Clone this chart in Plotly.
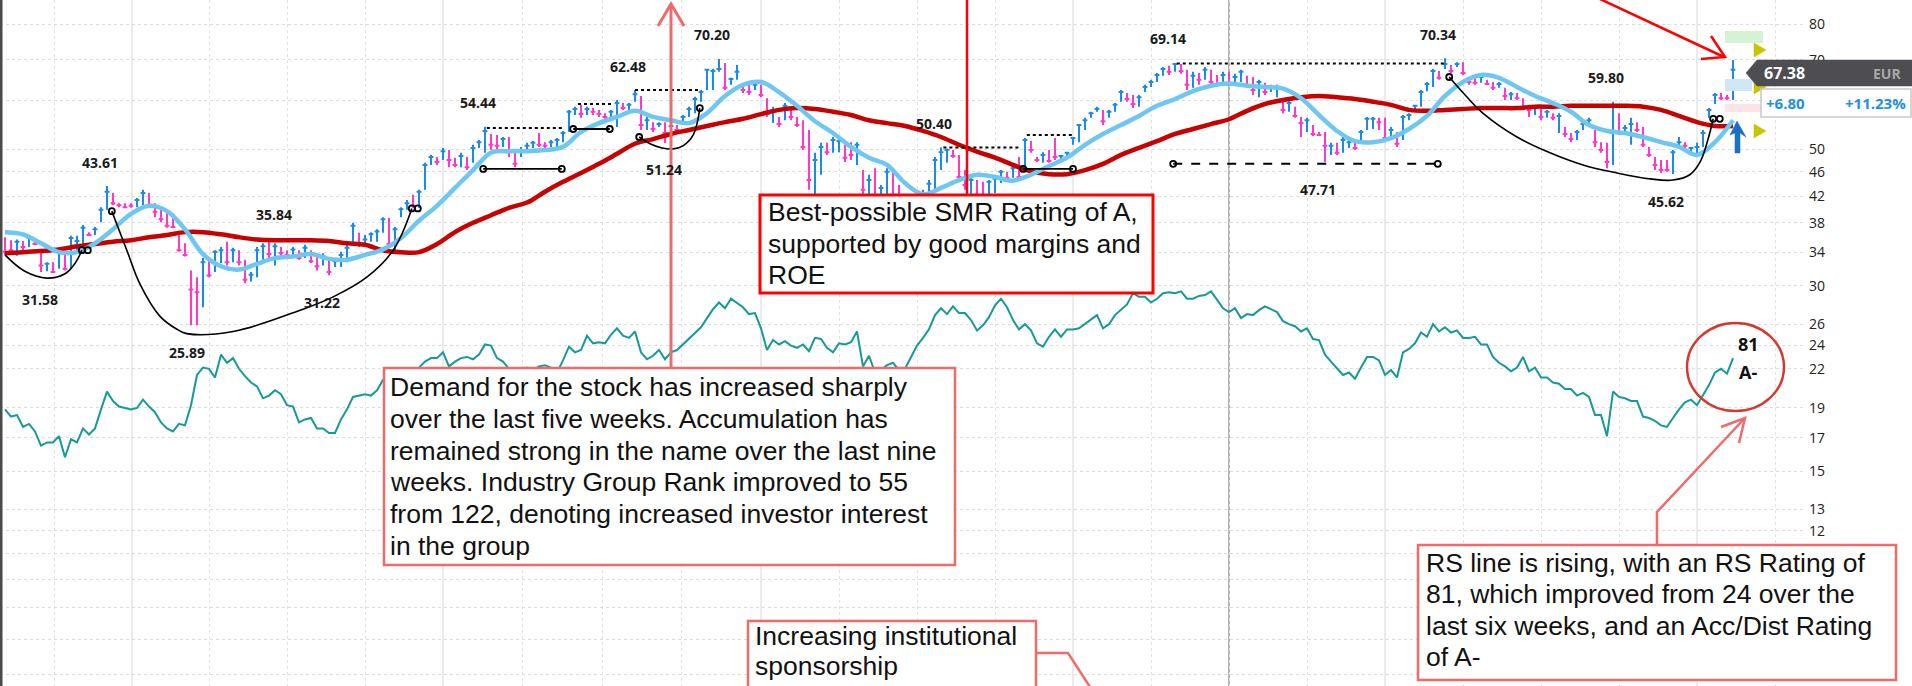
import math
import plotly.graph_objects as go

# ---------------- data (daily bars, EUR) ----------------
high = [
 36.0, 35.6, 35.7, 35.5, 36.3, 35.6, 34.3, 32.8, 32.8, 34.6,
 33.7, 36.2, 36.2, 37.7, 36.7, 37.4, 40.3, 43.61, 42.5, 40.9,
 40.9, 40.9, 41.7, 43.0, 42.5, 40.9, 40.2, 39.4, 39.4, 36.7,
 35.2, 31.8, 31.0, 33.3, 33.3, 34.3, 34.7, 35.4, 34.6, 34.3,
 33.1, 31.6, 34.7, 35.2, 35.84, 35.2, 34.7, 34.3, 34.7, 34.3,
 35.0, 34.3, 33.7, 33.9, 33.1, 33.3, 34.1, 35.0, 38.0, 36.6,
 36.3, 36.7, 37.1, 38.8, 38.7, 37.4, 40.3, 41.4, 42.2, 43.0,
 47.6, 49.0, 48.6, 50.3, 49.9, 48.5, 49.4, 48.6, 50.9, 51.8,
 54.44, 53.0, 52.8, 52.4, 52.4, 49.9, 50.5, 51.3, 51.6, 53.2,
 51.4, 51.8, 52.2, 53.6, 58.0, 58.7, 59.1, 58.7, 58.4, 58.0,
 57.3, 58.0, 60.2, 59.5, 59.5, 62.48, 61.1, 56.5, 55.4, 55.4,
 55.4, 55.2, 54.8, 56.9, 58.7, 60.9, 62.5, 67.6, 67.6, 70.2,
 69.1, 65.4, 68.6, 63.7, 63.7, 64.2, 63.7, 60.6, 58.7, 56.5,
 59.5, 58.0, 56.5, 55.8, 53.8, 49.4, 51.3, 51.3, 52.4, 52.4,
 50.9, 51.4, 51.4, 46.3, 45.5, 46.6, 43.8, 46.6, 46.6, 43.8,
 42.2, 42.2, 41.4, 43.0, 44.6, 48.6, 50.4, 50.2, 49.9, 49.0,
 46.3, 45.1, 44.6, 44.3, 44.6, 45.1, 46.3, 46.0, 47.2, 48.6,
 52.2, 51.6, 48.6, 49.5, 49.9, 52.2, 49.0, 49.5, 52.4, 55.0,
 56.3, 57.6, 58.7, 58.0, 58.0, 59.5, 62.5, 61.8, 61.3, 61.3,
 63.7, 64.9, 66.6, 68.1, 68.4, 69.14, 68.9, 67.4, 66.9, 66.6,
 68.1, 67.4, 66.1, 66.9, 66.9, 66.4, 67.4, 65.9, 65.6, 64.9,
 64.2, 63.7, 63.7, 60.2, 60.2, 58.7, 56.5, 56.3, 54.8, 53.4,
 53.4, 51.3, 51.3, 52.4, 52.2, 51.3, 53.8, 56.5, 56.5, 56.3,
 56.3, 54.4, 53.4, 56.9, 57.3, 59.1, 62.5, 64.4, 67.6, 67.1,
 70.34, 68.6, 69.3, 69.3, 65.6, 65.4, 66.1, 64.9, 64.4, 64.4,
 63.0, 62.0, 61.8, 60.6, 59.1, 58.7, 58.4, 58.0, 57.3, 57.3,
 54.4, 53.2, 53.8, 55.4, 56.3, 53.8, 51.4, 51.3, 59.8, 57.3,
 54.8, 56.3, 55.4, 54.4, 50.5, 48.6, 48.1, 48.1, 49.9, 52.4,
 51.4, 50.5, 51.3, 53.8, 58.4, 61.8, 61.8, 61.3, 69.9,
]
low = [
 33.7, 33.9, 33.6, 34.3, 34.7, 35.0, 31.6, 31.7, 31.58, 32.0,
 31.8, 32.0, 34.3, 34.3, 36.2, 36.3, 38.1, 39.9, 40.6, 40.3,
 40.2, 40.2, 40.3, 40.6, 40.3, 38.8, 38.1, 37.3, 37.3, 34.1,
 33.5, 25.89, 25.9, 27.7, 31.0, 31.6, 32.7, 32.4, 32.8, 32.4,
 30.3, 30.5, 31.0, 33.1, 33.3, 32.4, 33.5, 33.5, 33.7, 33.1,
 33.3, 32.7, 31.8, 32.4, 31.22, 32.2, 32.2, 32.8, 35.4, 34.7,
 35.2, 35.4, 35.4, 36.6, 34.6, 34.3, 38.8, 39.9, 40.2, 40.2,
 43.0, 47.2, 47.2, 48.1, 46.8, 46.8, 46.8, 46.3, 47.6, 50.3,
 49.4, 49.9, 49.5, 50.5, 48.6, 46.8, 48.6, 49.4, 50.3, 50.5,
 50.3, 50.5, 50.5, 51.4, 53.4, 56.9, 56.3, 56.9, 56.9, 56.5,
 55.8, 56.3, 54.4, 58.0, 58.0, 59.8, 53.8, 53.8, 53.4, 54.4,
 51.24, 53.2, 53.4, 55.2, 56.5, 57.3, 59.8, 62.5, 62.5, 66.9,
 62.5, 63.7, 64.9, 61.8, 61.3, 62.5, 60.8, 56.5, 55.2, 54.4,
 55.8, 55.8, 54.4, 49.9, 43.0, 42.2, 45.5, 49.0, 49.4, 49.5,
 47.7, 48.1, 47.2, 42.2, 41.4, 41.4, 41.7, 41.7, 41.4, 39.1,
 39.1, 38.4, 38.1, 39.9, 41.4, 43.0, 46.3, 47.6, 48.5, 44.6,
 43.0, 42.2, 41.7, 41.4, 41.7, 42.5, 44.1, 44.6, 45.0, 44.6,
 46.6, 49.4, 47.7, 47.6, 47.6, 48.1, 47.7, 48.5, 50.9, 51.4,
 53.8, 56.3, 57.6, 54.8, 56.3, 57.6, 59.8, 59.8, 58.4, 58.7,
 62.0, 63.2, 64.4, 65.9, 66.1, 66.9, 66.4, 62.5, 63.0, 63.7,
 64.9, 63.7, 63.5, 63.7, 63.5, 63.7, 64.4, 63.0, 61.3, 60.8,
 61.3, 62.0, 60.8, 57.3, 57.6, 56.3, 52.4, 53.4, 52.6, 52.6,
 47.71, 49.0, 49.0, 49.4, 50.3, 49.9, 51.4, 53.8, 54.0, 53.8,
 51.4, 52.4, 50.5, 51.8, 55.8, 58.0, 58.7, 62.2, 63.2, 64.9,
 67.6, 66.6, 68.1, 66.1, 63.7, 63.7, 64.2, 63.7, 62.5, 63.0,
 60.2, 60.2, 60.2, 58.0, 56.5, 56.9, 55.8, 56.3, 55.8, 53.2,
 52.4, 51.4, 51.8, 53.8, 54.4, 50.5, 49.4, 46.6, 47.2, 52.8,
 53.4, 50.9, 53.4, 50.5, 48.6, 46.3, 45.8, 46.0, 45.62, 50.3,
 50.3, 49.5, 49.0, 50.5, 56.3, 59.3, 60.2, 60.2, 60.2,
]
close = [
 34.1, 34.3, 35.4, 34.7, 35.9, 35.1, 32.4, 32.6, 31.6, 34.1,
 32.0, 35.9, 35.5, 37.3, 36.3, 37.1, 39.9, 42.7, 40.9, 40.6,
 40.3, 40.5, 41.4, 42.5, 40.5, 39.6, 38.5, 37.6, 37.4, 34.3,
 33.7, 29.6, 29.3, 32.8, 31.2, 34.1, 34.3, 32.8, 34.3, 32.8,
 30.7, 31.3, 34.3, 34.8, 33.8, 34.8, 33.9, 33.7, 34.4, 33.3,
 34.6, 32.9, 32.3, 33.5, 31.6, 32.9, 33.7, 34.6, 37.6, 35.1,
 35.7, 36.4, 36.8, 38.5, 35.1, 37.1, 40.0, 40.9, 40.5, 42.7,
 47.2, 48.6, 47.7, 49.7, 48.1, 47.2, 48.8, 46.8, 50.3, 51.4,
 53.6, 50.9, 50.7, 52.0, 49.9, 47.4, 49.9, 50.7, 51.3, 50.9,
 50.7, 51.4, 51.8, 53.2, 57.6, 58.2, 57.1, 58.2, 57.6, 57.1,
 56.5, 57.6, 59.5, 58.4, 59.1, 61.5, 54.8, 55.8, 54.0, 55.0,
 53.2, 54.6, 53.8, 56.5, 58.2, 60.4, 62.0, 67.4, 67.1, 67.6,
 63.0, 65.1, 66.9, 62.5, 62.0, 63.7, 61.3, 57.1, 58.0, 55.0,
 58.9, 56.5, 54.8, 50.5, 44.6, 48.1, 50.5, 49.5, 51.8, 51.6,
 48.5, 49.0, 50.9, 43.0, 44.6, 42.2, 43.3, 46.0, 42.2, 39.9,
 41.7, 39.1, 40.6, 42.2, 44.0, 48.1, 49.5, 49.9, 48.8, 45.1,
 43.8, 44.6, 42.2, 41.9, 44.3, 44.8, 46.0, 45.0, 46.6, 45.1,
 51.8, 49.9, 48.1, 49.0, 47.9, 48.6, 48.8, 49.4, 52.2, 54.8,
 55.8, 57.3, 58.2, 55.6, 57.6, 59.1, 62.0, 60.4, 59.3, 60.8,
 63.2, 64.4, 66.1, 67.6, 66.9, 68.9, 67.1, 63.7, 65.9, 64.9,
 67.4, 64.4, 63.9, 66.1, 63.7, 65.6, 66.9, 63.5, 62.5, 64.4,
 62.0, 63.2, 63.0, 58.0, 59.5, 56.7, 55.2, 55.8, 53.0, 52.8,
 50.7, 50.7, 49.4, 51.8, 51.4, 50.3, 53.4, 56.1, 56.1, 55.4,
 52.2, 53.8, 51.1, 56.5, 56.9, 58.9, 62.0, 63.9, 67.1, 65.4,
 68.9, 67.1, 68.9, 66.6, 64.4, 64.2, 65.6, 63.9, 63.0, 63.9,
 61.1, 61.5, 60.6, 58.7, 58.0, 58.4, 56.5, 57.6, 56.3, 56.7,
 53.0, 52.0, 53.4, 55.0, 55.8, 51.4, 49.9, 47.7, 53.4, 53.2,
 54.2, 55.0, 53.8, 50.9, 49.0, 47.2, 46.3, 46.3, 49.5, 51.4,
 50.7, 50.3, 50.5, 53.2, 58.0, 61.3, 60.6, 60.58, 67.38,
]
# u = up day (blue), d = down day (magenta)
direction = (
 "ddududdudu" "duuuduuudd" "dduudddddd" "ddduduudud" "duuududdud"
 "udduduuuud" "uuuuduuudu" "uududduduu" "uddudduuud" "duuuuududd"
 "duuduududu" "duduuuuuuu" "duudduddud" "udddduuduu" "ddududuudd"
 "uduuuuuudd" "dudduuudud" "uddudduuuu" "uuuduuuddu" "uuuududdud"
 "udduduuddu" "duududdudd" "duduuduuud" "duduuuuuud" "ududdduddu"
 "dudddududu" "dduuudddud" "uudddddduu" "duuuuuddu"
)
rs_line = [
 18.9, 18.4, 18.5, 17.7, 17.9, 17.4, 16.5, 16.7, 16.7, 17.1,
 15.8, 16.9, 16.7, 17.6, 17.2, 17.6, 18.9, 20.2, 19.5, 19.1,
 19.0, 18.9, 19.0, 19.6, 19.1, 18.7, 18.0, 17.6, 17.4, 17.9,
 17.8, 19.2, 21.5, 22.1, 22.0, 21.3, 23.2, 22.5, 22.9, 22.0,
 21.4, 20.9, 20.6, 19.7, 19.9, 20.3, 20.0, 19.2, 19.1, 18.0,
 18.2, 18.3, 17.6, 17.6, 17.3, 17.3, 18.2, 18.9, 19.8, 19.9,
 20.0, 19.9, 20.3, 21.1, 21.6, 21.7, 21.5, 21.9, 21.7, 22.1,
 22.6, 22.9, 22.9, 23.4, 22.2, 22.6, 22.9, 23.0, 22.8, 23.2,
 24.1, 24.0, 22.9, 22.6, 22.0, 21.7, 21.9, 22.1, 21.9, 22.2,
 22.3, 22.1, 21.7, 22.7, 23.9, 23.4, 23.6, 24.9, 24.2, 24.3,
 24.2, 25.0, 25.6, 24.9, 24.7, 25.3, 23.4, 22.8, 23.1, 23.6,
 22.8, 23.4, 23.6, 24.1, 24.7, 25.2, 25.7, 26.6, 27.5, 28.2,
 27.6, 28.6, 28.1, 27.7, 27.0, 27.1, 25.6, 23.6, 24.5, 24.1,
 24.4, 24.0, 23.8, 24.1, 23.5, 24.7, 24.6, 23.8, 23.4, 24.2,
 24.1, 24.3, 25.3, 22.2, 23.1, 21.7, 21.9, 22.3, 22.5, 21.9,
 22.0, 23.0, 24.0, 24.7, 25.5, 26.9, 27.6, 27.0, 27.8, 27.1,
 27.1, 26.4, 25.4, 25.9, 26.7, 27.9, 28.6, 27.7, 26.4, 25.5,
 26.0, 25.4, 24.2, 23.9, 24.8, 25.5, 24.8, 25.5, 25.5, 25.6,
 26.0, 26.4, 26.9, 25.6, 26.0, 26.9, 27.4, 28.0, 29.2, 28.8,
 28.8, 28.2, 28.6, 29.2, 29.3, 29.2, 29.4, 28.6, 28.6, 28.9,
 29.0, 29.4, 28.5, 27.6, 27.2, 27.6, 26.6, 27.0, 26.9, 27.4,
 27.8, 27.5, 27.2, 26.3, 26.0, 25.8, 25.3, 25.6, 24.6, 24.5,
 23.2, 22.6, 22.0, 21.5, 21.7, 21.2, 22.1, 23.0, 23.0, 22.7,
 21.5, 21.9, 21.3, 23.4, 23.7, 24.2, 25.2, 24.8, 26.0, 25.3,
 25.7, 25.2, 25.4, 24.7, 24.7, 24.8, 24.1, 24.1, 23.0, 22.5,
 22.2, 21.8, 22.1, 23.0, 21.8, 22.1, 21.3, 21.3, 20.9, 20.8,
 20.4, 20.4, 19.9, 20.1, 19.8, 18.5, 18.5, 17.1, 20.2, 19.8,
 19.7, 19.5, 19.5, 18.4, 18.3, 18.1, 17.8, 17.7, 18.3, 18.9,
 19.4, 19.6, 19.2, 19.9, 20.7, 21.7, 22.0, 21.6, 22.9,
]
# moving averages, one reading every 3rd session
ma_step = 3
ma_fast = [
 36.7, 36.4, 35.2, 34.05, 34.05, 35.2, 37.1, 39.3, 40.5, 39.7,
 37.1, 33.8, 32.3, 31.9, 32.6, 33.3, 33.5, 33.8, 33.2, 33.1,
 33.7, 34.4, 35.9, 38.3, 40.5, 43.3, 46.3, 49.4, 49.7, 49.7,
 49.9, 50.5, 53.4, 55.2, 56.5, 57.8, 56.5, 55.8, 55.2, 57.3,
 61.1, 63.7, 64.4, 62.0, 58.9, 55.6, 53.2, 50.5, 48.5, 47.2,
 44.1, 42.3, 43.3, 44.6, 45.5, 45.1, 44.5, 45.5, 47.0, 48.5,
 50.9, 53.0, 54.8, 56.7, 58.9, 60.4, 62.2, 63.5, 64.0, 63.5,
 63.2, 62.8, 60.6, 56.9, 53.6, 51.6, 51.4, 52.2, 54.0, 56.7,
 61.1, 64.4, 66.1, 65.4, 63.2, 61.1, 59.5, 57.6, 54.8, 53.6,
 53.2, 52.4, 51.4, 50.5, 49.0, 51.4, 55.8,
]
ma_slow = [
 33.9, 34.05, 34.2, 34.4, 34.8, 35.1, 35.4, 35.6, 36.0, 36.3,
 36.7, 36.7, 36.4, 36.0, 35.7, 35.6, 35.6, 35.6, 35.5, 35.2,
 35.0, 34.3, 34.05, 34.05, 35.1, 36.7, 38.0, 39.1, 40.2, 41.0,
 42.7, 44.3, 45.8, 47.4, 49.2, 51.1, 52.0, 53.0, 53.8, 54.6,
 55.4, 56.1, 57.1, 58.0, 58.4, 58.2, 57.6, 56.9, 55.8, 55.2,
 54.6, 53.6, 52.4, 50.9, 49.6, 48.5, 47.2, 46.1, 45.6, 45.6,
 46.3, 47.4, 49.0, 50.3, 51.6, 53.0, 54.0, 55.0, 56.0, 57.8,
 59.3, 60.2, 60.8, 61.1, 60.8, 60.4, 59.8, 59.1, 58.0, 57.8,
 58.0, 58.2, 58.4, 58.4, 58.4, 58.7, 58.7, 58.9, 58.9, 58.9,
 58.9, 58.7, 58.0, 56.7, 55.4, 54.6, 54.6,
]
# labelled pivot prices: (session index, price, above/below)
pivot_labels = [
 (7, 31.58, "below"), (17, 43.61, "above"), (31.5, 25.89, "below"),
 (46, 35.84, "above"), (54, 31.22, "below"), (80, 54.44, "above"),
 (105, 62.48, "above"), (111, 51.24, "below"), (119, 70.20, "above"),
 (156, 50.40, "above"), (195, 69.14, "above"), (220, 47.71, "below"),
 (240, 70.34, "above"), (268, 59.80, "above"), (278, 45.62, "below"),
]
# base-pattern drawings (session index, price)
cup1 = [(0, 33.7), (3.3, 31.7), (7, 30.9), (10, 31.4), (11.8, 32.8), (12.8, 34.3)]
cup2 = [(17.8, 39.7), (20.3, 34.3), (22.5, 30.2), (25.8, 26.8), (28.7, 25.5), (30.3, 25.1),
        (38, 25.3), (49.2, 27.4), (54.7, 28.8), (60.3, 31.0), (64.7, 34.3), (67.8, 40.1)]
cup3 = [(105.7, 52.4), (107.5, 51.1), (109.5, 50.3), (111.2, 50.1), (113, 50.7), (114.7, 52.8), (115.8, 58.4)]
cup4 = [(240.7, 65.6), (243.7, 60.8), (246.3, 57.3), (252, 52.4), (257.5, 49.4), (263, 47.2),
        (268.7, 45.8), (274.2, 44.8), (278, 44.6), (280.8, 45.5), (282.5, 47.7), (283.8, 51.8), (284.7, 56.1)]
solid_segments = [((79.7, 46.5), (92.8, 46.5)), ((94.7, 54.0), (100.8, 54.0)), ((169.7, 46.5), (178.0, 46.5))]
dotted_segments = [((80.3, 54.2), (93.0, 54.2)), ((95.5, 59.3), (101.3, 59.3)), ((105.0, 62.48), (115.8, 62.48)),
                   ((156.4, 50.4), (168.9, 50.4)), ((170.3, 52.8), (178.1, 52.8)), ((195.3, 69.0), (240.3, 69.0))]
dashed_segments = [((194.7, 47.4), (238.8, 47.4))]
circle_points = [(12.8, 34.3), (13.8, 34.3), (17.8, 39.7), (67.8, 40.1), (68.8, 40.1),
                 (79.7, 46.5), (92.8, 46.5), (94.7, 54.0), (100.8, 54.0), (105.7, 52.4), (115.8, 58.4),
                 (169.7, 46.5), (178.0, 46.5), (194.7, 47.4), (238.8, 47.4), (240.7, 65.6),
                 (284.7, 56.1), (285.8, 56.1)]
y_ticks = [80, 70, 60, 50, 46, 42, 38, 34, 30, 26, 24, 22, 19, 17, 15, 13, 12, 11, 10, 9, 8, 7]
y_tick_text = ["80", "70", "60", "50", "46", "42", "38", "34", "30", "26", "24", "22", "19", "17",
               "15", "13", "12", "", "", "", "", ""]
period_lines = [21.2, 73, 126, 178, 230, 282]
last_price, change, change_pct, currency = "67.38", "+6.80", "+11.23%", "EUR"
rs_rating, acc_dist = "81", "A-"

demand_lines = ["Demand for the stock has increased sharply",
                "over the last five weeks. Accumulation has",
                "remained strong in the name over the last nine",
                "weeks. Industry Group Rank improved to 55",
                "from 122, denoting increased investor interest",
                "in the group"]
smr_lines = ["Best-possible SMR Rating of A,", "supported by good margins and", "ROE"]
inst_lines = ["Increasing institutional", "sponsorship"]
rs_lines = ["RS line is rising, with an RS Rating of",
            "81, which improved from 24 over the",
            "last six weeks, and an Acc/Dist Rating",
            "of A-"]

N = len(close)
assert len(high) == N and len(low) == N and len(direction) == N and len(rs_line) == N
assert len(ma_fast) == len(ma_slow)

# ---------------- layout geometry ----------------
W, H = 1912, 686
PW = 1804          # plot area width (right margin holds the price scale)
BAR_PX, FIRST_PX = 6.0, 5.0

def px(x):
    return x / PW

def py(y):
    return 1 - y / H

BLUE = "#1a8ce6"
MAGENTA = "#ff38c8"
SALMON = "#f06a6a"
RED = "#ff0000"
TXT = "Liberation Sans, Arial, sans-serif"
NUM = "Open Sans, sans-serif"

fig = go.Figure()

# price bars
for flag, col in (("u", BLUE), ("d", MAGENTA)):
    idx = [i for i in range(N) if direction[i] == flag]
    fig.add_trace(go.Ohlc(
        x=idx, open=[close[i] for i in idx], high=[high[i] for i in idx],
        low=[low[i] for i in idx], close=[close[i] for i in idx],
        increasing=dict(line=dict(color=col, width=2)),
        decreasing=dict(line=dict(color=col, width=2)),
        tickwidth=0.4, hoverinfo="skip"))

ma_x = [i * ma_step for i in range(len(ma_fast))]
fig.add_trace(go.Scatter(x=ma_x, y=ma_slow, mode="lines",
                         line=dict(color="#c80000", width=4.5, shape="spline", smoothing=1.0)))
fig.add_trace(go.Scatter(x=ma_x, y=ma_fast, mode="lines",
                         line=dict(color="#6ec6f3", width=4.5, shape="spline", smoothing=1.0)))
fig.add_trace(go.Scatter(x=list(range(N)), y=rs_line, mode="lines",
                         line=dict(color="#17999a", width=2)))

# pattern drawings
for cup in (cup1, cup2, cup3, cup4):
    fig.add_trace(go.Scatter(x=[p[0] for p in cup], y=[p[1] for p in cup], mode="lines",
                             line=dict(color="black", width=1.6, shape="spline", smoothing=1.1)))
for segs, dash in ((solid_segments, "solid"), (dotted_segments, "dot"), (dashed_segments, "dash")):
    for a, b in segs:
        fig.add_trace(go.Scatter(x=[a[0], b[0]], y=[a[1], b[1]], mode="lines",
                                 line=dict(color="black", width=2 if dash != "solid" else 1.8, dash=dash)))
fig.add_trace(go.Scatter(x=[p[0] for p in circle_points], y=[p[1] for p in circle_points], mode="markers",
                         marker=dict(symbol="circle-open", size=6, color="black", line=dict(width=1.8))))

shapes = []
ann = []

def rect(x0, y0, x1, y1, line_color, lw, fill="white", layer="above"):
    shapes.append(dict(type="rect", xref="paper", yref="paper", x0=px(x0), x1=px(x1),
                       y0=py(y1), y1=py(y0), line=dict(color=line_color, width=lw),
                       fillcolor=fill, layer=layer))

def poly(points, color, lw, closed=False, fill=None):
    d = "M " + " L ".join(f"{px(x):.5f},{py(y):.5f}" for x, y in points)
    if closed:
        d += " Z"
    s = dict(type="path", xref="paper", yref="paper", path=d, layer="above",
             line=dict(color=color, width=lw))
    if fill:
        s["fillcolor"] = fill
    shapes.append(s)

def text_lines(lines, x, y0, step, size=26.5):
    for k, t in enumerate(lines):
        ann.append(dict(xref="paper", yref="paper", x=px(x), y=py(y0 + k * step), text=t,
                        showarrow=False, xanchor="left", yanchor="middle",
                        font=dict(family=TXT, size=size, color="#111")))

# background lines
shapes.append(dict(type="line", xref="x", yref="paper", x0=204, x1=204, y0=0, y1=1,
                   line=dict(color="#9a9a9a", width=1.5), layer="below"))
shapes.append(dict(type="line", xref="paper", yref="paper", x0=px(1), x1=px(1), y0=0, y1=1,
                   line=dict(color="#4a4a4a", width=3), layer="above"))

# arrows and lines
poly([(671, 368), (671, 4)], SALMON, 3)
poly([(658, 26), (671, 4), (684, 26)], SALMON, 3)
poly([(967, 0), (967, 195)], RED, 2.5)
poly([(1585, -8), (1724, 57)], RED, 2.5)
poly([(1711, 36), (1725, 57), (1701, 59)], RED, 2.5)
poly([(1657, 545), (1657, 512), (1744, 419)], SALMON, 2.5)
poly([(1721, 427), (1745, 418), (1739, 443)], SALMON, 2.5)
poly([(1036, 653), (1068, 653), (1092, 690)], SALMON, 2.5)
shapes.append(dict(type="circle", xref="paper", yref="paper", x0=px(1687), x1=px(1784),
                   y0=py(411), y1=py(323), line=dict(color="#d5392b", width=2.5), layer="above"))

# text boxes
rect(384, 368, 955, 565, SALMON, 2.5)
text_lines(demand_lines, 388, 387, 31.8)
rect(760, 195, 1153, 293, RED, 3)
text_lines(smr_lines, 766, 212, 31.5)
rect(748, 621, 1036, 700, SALMON, 2.5)
text_lines(inst_lines, 753, 636, 30.0)
rect(1418, 545, 1896, 680, SALMON, 2.5)
text_lines(rs_lines, 1424, 563, 31.3)

# right-side price markers
rect(1725, 31, 1763, 43, "rgba(0,0,0,0)", 0, fill="#d4f3d4")
rect(1725, 79, 1752, 91, "rgba(0,0,0,0)", 0, fill="#cfe8f8")
rect(1725, 104, 1763, 112, "rgba(0,0,0,0)", 0, fill="#fde3e8")
for cy in (50, 87, 131):
    poly([(1754, cy - 7), (1766, cy), (1754, cy + 7)], "#c9c400", 0.5, closed=True, fill="#c9c400")
poly([(1735, 153), (1740, 153), (1740, 133), (1746, 137), (1737, 121), (1730, 135), (1735, 133)],
     "#1a6fc9", 0.5, closed=True, fill="#1a6fc9")
poly([(1746, 73), (1757, 60), (1912, 60), (1912, 86), (1757, 86)], "#4d4d52", 0.5, closed=True, fill="#4d4d52")
rect(1761, 89, 1911, 117, "#c8c8c8", 1.5)

ann.append(dict(xref="paper", yref="paper", x=px(1762), y=py(73.5), text=f"<b>{last_price}</b>",
                showarrow=False, xanchor="left", yanchor="middle",
                font=dict(family=NUM, size=16, color="white")))
ann.append(dict(xref="paper", yref="paper", x=px(1903), y=py(73.5), text=f"<b>{currency}</b>",
                showarrow=False, xanchor="right", yanchor="middle",
                font=dict(family=NUM, size=14, color="#a8a8a8")))
ann.append(dict(xref="paper", yref="paper", x=px(1764), y=py(103.5), text=f"<b>{change}</b>",
                showarrow=False, xanchor="left", yanchor="middle",
                font=dict(family=NUM, size=15, color="#1e8fe6")))
ann.append(dict(xref="paper", yref="paper", x=px(1908), y=py(103.5), text=f"<b>{change_pct}</b>",
                showarrow=False, xanchor="right", yanchor="middle",
                font=dict(family=NUM, size=15, color="#1e8fe6")))
ann.append(dict(xref="paper", yref="paper", x=px(1748), y=py(344), text=f"<b>{rs_rating}</b>",
                showarrow=False, xanchor="center", yanchor="middle",
                font=dict(family=NUM, size=18, color="#111")))
ann.append(dict(xref="paper", yref="paper", x=px(1748), y=py(372), text=f"<b>{acc_dist}</b>",
                showarrow=False, xanchor="center", yanchor="middle",
                font=dict(family=NUM, size=18, color="#111")))

for i, v, side in pivot_labels:
    ann.append(dict(xref="x", yref="y", x=i, y=math.log10(v), text=f"<b>{v:.2f}</b>",
                    showarrow=False, xanchor="center", yanchor="middle",
                    xshift=-7, yshift=24 if side == "above" else -27,
                    font=dict(family=NUM, size=14, color="#1a1a1a")))

# axes
LOG_TOP = math.log10(80) + 24 / 615
LOG_BOT = math.log10(80) - (H - 24) / 615
minor_vals = []
for a, b in zip(period_lines[:-1], period_lines[1:]):
    minor_vals += [a + (b - a) * k / 4 for k in (1, 2, 3)]
minor_vals += [period_lines[0] - (period_lines[1] - period_lines[0]) / 4]
minor_vals += [period_lines[-1] + (period_lines[-1] - period_lines[-2]) / 4]

fig.update_layout(
    width=W, height=H, margin=dict(l=0, r=W - PW, t=0, b=0),
    paper_bgcolor="white", plot_bgcolor="white", showlegend=False, hovermode=False,
    shapes=shapes, annotations=ann,
    xaxis=dict(range=[-FIRST_PX / BAR_PX, (PW - FIRST_PX) / BAR_PX], rangeslider=dict(visible=False),
               showticklabels=False, ticks="", tickvals=period_lines, showgrid=True,
               gridcolor="#ebebeb", gridwidth=1.5, zeroline=False, showline=False,
               minor=dict(tickvals=minor_vals, showgrid=True, gridcolor="#e2e2e2",
                          griddash="dot", gridwidth=1, ticks="")),
    yaxis=dict(type="log", range=[LOG_BOT, LOG_TOP], side="right", tickvals=y_ticks,
               ticktext=y_tick_text, ticks="", showgrid=True, gridcolor="#dcdcdc",
               griddash="dot", gridwidth=1, zeroline=False, showline=False,
               tickfont=dict(family=NUM, size=14, color="#222"), ticklabelstandoff=4),
)

fig.write_html("out.html", config={"displayModeBar": False, "staticPlot": True},
               post_script="document.body.style.margin='0';document.body.style.overflow='hidden';")
